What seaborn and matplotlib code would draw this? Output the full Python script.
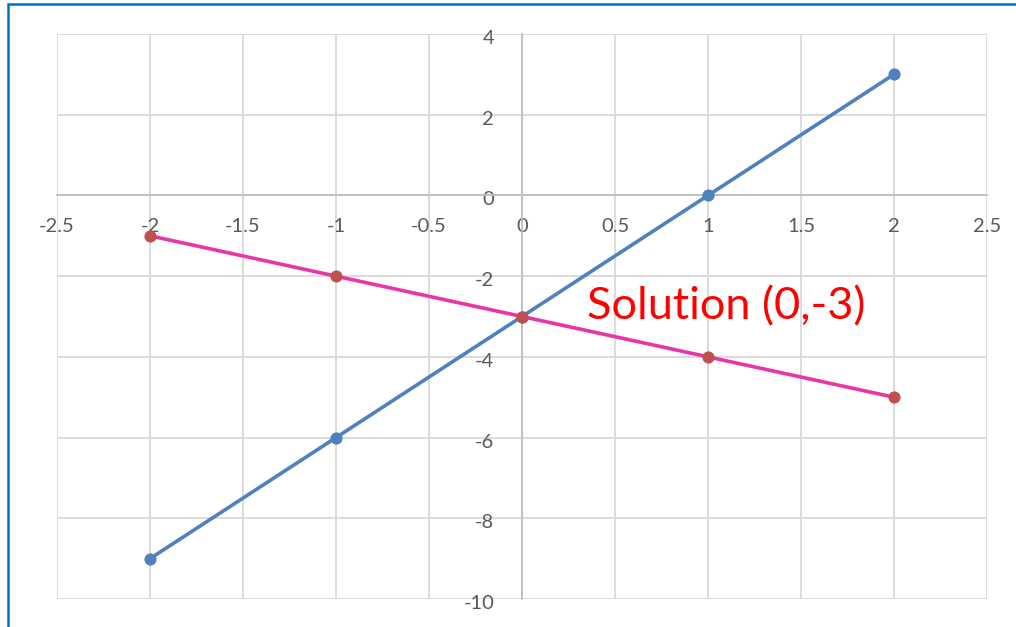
import matplotlib
matplotlib.use("Agg")
import matplotlib.pyplot as plt
import matplotlib.transforms as mtransforms
from matplotlib.patches import Rectangle
import pandas as pd
import seaborn as sns

# data
x_vals = [-2, -1, 0, 1, 2]
line_a = [-9, -6, -3, 0, 3]     # y = 3x - 3
line_b = [-1, -2, -3, -4, -5]   # y = -x - 3
x_ticks = [-2.5, -2, -1.5, -1, -0.5, 0, 0.5, 1, 1.5, 2, 2.5]
y_ticks = [-10, -8, -6, -4, -2, 0, 2, 4]
label_text = "Solution (0,-3)"
label_pos = (0.35, -2.75)

df = pd.DataFrame({"x": x_vals, "a": line_a, "b": line_b})

sns.set_style("white")
plt.rcParams["font.family"] = ["Lato", "DejaVu Sans"]
plt.rcParams["axes.unicode_minus"] = False

fig = plt.figure(figsize=(10.16, 6.27), dpi=100)
ax = fig.add_axes([57 / 1016, 1 - 599 / 627, 930 / 1016, 565 / 627])

sns.lineplot(data=df, x="x", y="a", ax=ax, color="#4F81BD", lw=2.6,
             marker="o", markersize=8, markerfacecolor="#4F81BD",
             markeredgecolor="#4F81BD", sort=False, zorder=3)
sns.lineplot(data=df, x="x", y="b", ax=ax, color="#E936A7", lw=2.6,
             marker="o", markersize=8, markerfacecolor="#C0504D",
             markeredgecolor="#C0504D", sort=False, zorder=4)

ax.set_xlim(-2.5, 2.5)
ax.set_ylim(-10, 4)
ax.set_xticks(x_ticks)
ax.set_xticklabels([f"{t:g}" for t in x_ticks])
ax.set_yticks(y_ticks)
ax.set_yticklabels([f"{t:g}" for t in y_ticks])
ax.set_xlabel("")
ax.set_ylabel("")

ax.grid(True, color="#D9D9D9", lw=1.3)
for s in ["top", "right"]:
    ax.spines[s].set_visible(False)
ax.spines["left"].set_position(("data", 0))
ax.spines["bottom"].set_position(("data", 0))
for s in ["left", "bottom"]:
    ax.spines[s].set_color("#BFBFBF")
    ax.spines[s].set_linewidth(1.3)
ax.tick_params(axis="both", length=0, labelsize=14.5, colors="#595959")
ax.tick_params(axis="x", pad=16)
ax.tick_params(axis="y", pad=20)
shift = mtransforms.ScaledTranslation(0, -3 / 100, fig.dpi_scale_trans)
for t in ax.get_yticklabels():
    t.set_va("center_baseline")
    t.set_transform(t.get_transform() + shift)

ax.text(label_pos[0], label_pos[1], label_text, color="#FF0000",
        fontsize=32.5, ha="left", va="center")

# outer chart frame
fig.patches.append(Rectangle((8 / 1016, -0.1), 1.2, 1 - 4 / 627 + 0.1,
                             transform=fig.transFigure, fill=False,
                             edgecolor="#0070C0", lw=1.8))

fig.savefig("out.png", dpi=100)
